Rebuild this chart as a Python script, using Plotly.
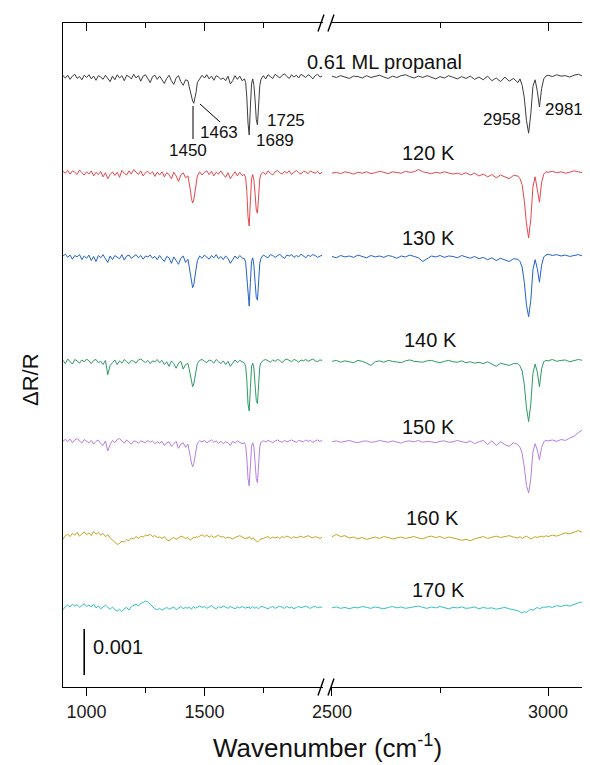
import plotly.graph_objects as go

# ---------------- sampling grids (cm^-1) ----------------
WN_LEFT = (list(range(900, 1430, 10)) + list(range(1430, 1475, 5)) + list(range(1480, 1670, 10))
           + list(range(1670, 1745, 5)) + list(range(1750, 2010, 10)))
WN_RIGHT = list(range(2500, 2930, 10)) + list(range(2930, 3000, 5)) + list(range(3000, 3110, 10))

# ---------------- spectra (units of 1e-5 dR/R, relative to each baseline) ----------------
LABELS = ["0.61 ML propanal", "120 K", "130 K", "140 K", "150 K", "160 K", "170 K"]
COLORS = ["#3c3c3c", "#e5474b", "#2263c9", "#2e9a63", "#b57fe0", "#c9a41e", "#33c2c2"]
BASELINES = [1326, 1117, 935, 707, 533, 324, 172]
UNIT = 1e-5

A_LEFT = [3, -2, 4, -5, 2, 6, -3, 1, -6, 4, -1,
          5, -4, 2, -7, 3, 0, -5, 4, -3, -10,
          2, -6, 5, -2, 3, -8, 4, 1, -4, 6,
          -2, 3, -9, 2, 5, -3, -12, 1, 4, -5,
          2, -6, -14, -3, 4, -8, -16, -2, 3, -10, -18, -6,
          -8, -20, -30, -45, -52, -57, -45, -32, -12,
          -3, 4, -2, 5, -4, 2, -7, 3, 0, -5, -2, -8, 2, -15, -8, 3, -5, 2, -8,
          -4, -12, -45, -100, -126, -65, -15, -4, -18, -50, -92, -104, -60, -18, -5,
          3, -4, 5, 1, -3, 6, 2, -2, 4, 7, 1, -3, 5, 0, 4, -2, 6, 3, -1, 5, 2, -4, 3, 6, 0, 2]
A_RIGHT = [2, -1, 3, 0, -3, 2, 1, -2, 3, -1, 2, 4, 0, -3, 2, -1, 3, 5, 1, -2,
           2, -1, 3, 0, -4, 1, -2, 3, -1, -4, 1, -3, 2, -5, 0, -6, 2, -8, -2, -10, 0, -9, -3,
           -12, -4, -18, -45, -95, -122, -80, -20, -6, -30, -65, -25, -4, 2,
           4, 1, 5, 2, 3, 0, 4, 6, 2, 3, 5]

B_LEFT = [4, 0, 6, -2, 5, 2, -3, 7, 1, -4, 3,
          -2, 5, -6, 2, -3, 4, -8, 1, -12, -3,
          3, -5, 2, -9, 6, 0, -4, 5, -2, 8,
          2, -3, 5, -6, 1, 4, -2, 3, -7, 2,
          -4, 3, -8, 1, -3, -12, 2, -6, -18, -4, 1, -10,
          -6, -18, -35, -55, -65, -58, -40, -22, -6,
          3, -4, 2, 5, -3, 4, -6, 2, -2, 5, -3, -9, 1, -12, -4, 3, -6, 2, -5,
          -3, -10, -40, -95, -115, -60, -12, -3, -15, -45, -80, -87, -50, -12, -2,
          2, -3, 5, 0, -4, 3, 6, 1, -2, 4, 0, 5, -3, 2, 6, 1, -2, 4, 3, -1, 5, 2, 0, 4, -2, 3]
B_RIGHT = [0, 2, -1, 3, 1, -2, 2, 0, 3, -1, 1, 4, 2, -1, 3, 1, 0, 4, 2, 3,
           8, 3, 1, -1, 2, 0, 3, 1, -2, 0, -3, 1, -4, 0, -6, -2, -8, -3, -10, -4, -8, -12, -5,
           -6, -12, -25, -60, -110, -141, -100, -30, -8, -35, -63, -20, -2, 3,
           2, 4, 1, 3, 0, 2, 5, 3, 1, 4, 2]

C_LEFT = [2, 6, -1, 4, -5, 3, 0, 5, -6, 2, -3,
          4, -8, 1, -10, 3, -2, 5, -4, -12, 2,
          -6, 3, 0, -4, 5, -7, 2, 4, -3, 1,
          5, -2, 3, -5, 2, 0, 4, -3, 1, -6,
          3, -4, -10, 1, -2, -14, 0, -8, -16, -3, 2, -12,
          -5, -20, -38, -58, -67, -60, -42, -25, -8,
          2, -3, 4, 0, -5, 3, -2, 5, -4, 1, -6, 2, -3, -14, -6, 2, -4, 3, -2,
          -4, -12, -42, -90, -107, -55, -10, -2, -18, -55, -88, -94, -52, -14, -3,
          4, 1, -2, 5, 3, -1, 2, 6, 0, -3, 4, 2, 5, -1, 3, 0, 6, 2, -2, 4, 1, 5, 3, -1, 2, 4]
C_RIGHT = [1, -2, 3, 0, 2, -1, 4, 1, -2, 3, 0, 2, -1, 3, 1, -3, 2, 0, 4, 1,
           -2, -10, -4, 2, 0, 3, -1, 2, 1, -2, 3, 0, -3, 1, -4, -1, -6, -2, -8, -3, -6, -10, -4,
           -5, -10, -22, -55, -105, -130, -95, -28, -6, -25, -55, -18, 0, 4,
           6, 3, 5, 2, 4, 1, 3, 5, 2, 4, 3]

D_LEFT = [3, -4, 6, 1, -5, 5, 2, -3, 4, 0, 6,
          2, -4, 3, 5, -2, 1, -6, 3, -28, -8,
          -2, 4, -6, 2, -3, 5, 0, -4, 3, 1,
          -3, 4, 6, 1, -2, 3, -4, 2, 0, 5,
          -2, 3, -6, 0, -10, 2, -4, -14, -3, 1, -16, -6,
          -4, -15, -30, -45, -54, -48, -32, -16, -4,
          3, 5, 1, -2, 4, 2, -3, 5, 0, -4, 2, -6, 1, -10, -3, 4, -2, 3, 0,
          -3, -10, -40, -92, -107, -58, -10, -3, -14, -50, -84, -91, -48, -10, -2,
          3, 5, 2, -1, 4, 1, 5, 3, -2, 4, 6, 2, 0, 5, 3, -1, 4, 2, 5, 1, 3, 6, 2, 0, 4, 3]
D_RIGHT = [1, 3, -1, 2, 0, -2, 3, 1, -3, -8, 0, 2, -1, 3, 1, 0, -2, 2, 4, 1,
           0, -1, 2, 3, 0, -2, 1, 3, 0, -1, 2, -2, 0, -3, -1, -4, 0, -5, -10, -3, -6, -8, -4,
           -4, -9, -20, -50, -100, -130, -92, -25, -5, -22, -54, -15, 0, 3,
           2, 5, 1, 3, 4, 0, 2, 5, 3, 1, 4]

E_LEFT = [2, 5, 0, 6, -2, 4, 7, 1, -3, 5, 2,
          -2, 3, -5, 1, 4, -4, -8, 2, -20, -6,
          3, -2, 5, 7, 1, -3, 4, 0, -5, 2,
          1, -3, 2, 0, -2, 3, -1, 2, -4, 0,
          -3, 1, -8, -2, 0, -10, -4, 1, -14, -5, -2, -12,
          -5, -16, -32, -46, -54, -47, -30, -14, -3,
          2, 0, 3, -2, 1, 4, -1, 2, -3, 1, -4, 0, -2, -8, 1, -3, 2, -1, -4,
          -2, -8, -35, -80, -96, -55, -10, -2, -12, -45, -80, -89, -45, -10, -1,
          2, 0, 3, 1, -2, 2, 4, 1, -1, 3, 0, 2, 4, 1, -1, 3, 2, 0, 4, 1, 3, -1, 2, 4, 1, 3]
E_RIGHT = [0, 2, -1, 1, 3, 0, -2, 1, 2, -1, 0, 3, 1, -1, 2, 0, -3, 1, 2, 0,
           3, -1, 1, 0, -2, 1, 2, -1, 0, 3, 1, -2, 2, -4, 0, 3, -6, 2, -8, 0, -6, -10, -2,
           -6, -12, -25, -55, -95, -111, -80, -22, -4, -18, -39, -12, 0, 3,
           2, 4, 1, 5, 3, 8, 12, 20, 26, 18, 14]

F_LEFT = [-3, 5, 8, 3, 10, 6, 12, 4, 9, 13, 7,
          11, 5, 14, 8, 12, 6, 10, 3, 7, 0,
          -5, -10, -14, -12, -7, -9, -4, -6, 0, -2,
          3, -1, 4, 2, 6, 5, 8, 3, 5, 1,
          2, -1, 3, -4, -6, -2, 1, -3, 0, 4, 2, -1,
          1, -2, -5, -3, -1, 2, 0, 3, 1,
          4, 7, 3, 6, 2, 5, 1, 4, 6, 2, 3, -1, 2, 0, -2, 1, 3, 5, 2,
          0, -2, 1, -1, 3, 0, -3, 1, -2, -4, -7, -9, -6, -4, -2,
          -1, 1, 3, -1, 2, 0, 2, -1, 3, 1, 4, 2, -1, 3, 0, 2, 4, 1, 3, 5, 2, 0, 3, 1, -1, 2]
F_RIGHT = [2, 8, 3, 5, 0, 2, -2, 1, -3, 0, 2, -1, 3, 1, -2, 0, 2, -1, 1, 3,
           0, -2, 2, 4, 1, 3, -1, 2, 0, -2, -5, -3, -6, -2, 0, 3, -1, 2, 4, 1, 3, 5, 2,
           0, 3, -1, 2, 4, 1, -2, 0, 3, 1, 2, 4, 2, 5,
           3, 6, 4, 8, 11, 9, 13, 16, 12, 15, 10]

G_LEFT = [-4, 3, 6, 2, 8, 4, 7, 1, 5, 9, 3,
          6, 2, 8, 0, 4, -2, 3, 6, 1, -3,
          2, -4, -7, -3, -8, -2, 1, -5, 3, 5,
          8, 4, 10, 12, 15, 13, 8, 2, -2, -4,
          -1, -5, -2, 1, -3, -1, 2, -4, 0, 3, -2, 1,
          -1, 2, 0, -3, 1, 3, -1, 0, 2,
          4, 1, 3, -1, 2, 5, 1, -2, 3, 0, 4, 2, -1, 3, 1, -2, 2, 0, 3,
          1, -1, 2, 0, 3, -2, 1, 3, 0, -1, 2, 0, -2, 1, 3,
          2, 0, -2, 1, 3, -1, 2, 4, 1, -1, 3, 0, 2, -2, 1, 3, 0, 2, 4, 1, -1, 2, 3, 0, 2, 1]
G_RIGHT = [0, 2, -1, 1, -2, 1, 0, 3, 1, -1, 2, 0, -2, 1, 3, 0, 2, -1, 1, 3,
           4, 1, -1, 2, 0, 3, 1, -2, 1, 0, 2, -1, 0, 2, -2, 1, -1, 0, -3, -1, 1, -2, -4,
           -6, -9, -11, -8, -10, -6, -3, -5, -1, 1, -2, 0, 2, 1,
           3, 1, 5, 3, 6, 4, 8, 11, 13, 10, 12]

LEFTS = [A_LEFT, B_LEFT, C_LEFT, D_LEFT, E_LEFT, F_LEFT, G_LEFT]
RIGHTS = [A_RIGHT, B_RIGHT, C_RIGHT, D_RIGHT, E_RIGHT, F_RIGHT, G_RIGHT]
for i, (l, r) in enumerate(zip(LEFTS, RIGHTS)):
    assert len(l) == len(WN_LEFT), (i, "left", len(l), len(WN_LEFT))
    assert len(r) == len(WN_RIGHT), (i, "right", len(r), len(WN_RIGHT))

# axis ticks
X_TICKS_LEFT = [1000, 1500]
X_MINOR_LEFT = [1250, 1750]
X_TICKS_RIGHT = [2500, 3000]
X_MINOR_RIGHT = [2750]
X_RANGE_LEFT = [900, 2001]
X_RANGE_RIGHT = [2497.7, 3097]
Y_RANGE = [0, 0.014435]

# scale bar
SCALE_BAR_X = 990
SCALE_BAR_BOTTOM = 0.00026
SCALE_BAR_LENGTH = 0.001

# peak labels: (text, pixel centre x, pixel centre y) in window pixels
PEAK_LABELS = [("1450", 188, 151), ("1463", 219, 133), ("1689", 275, 140),
               ("1725", 286, 120), ("2958", 502, 119), ("2981", 564, 110)]
SPEC_LABEL_POS = [(384, 62), (428, 153), (428, 238), (430, 340), (428, 427), (432, 518), (438, 590)]

# ---------------- figure ----------------
W, H = 590, 765          # browser window
PAGE_MARGIN = 8          # default body margin of the html page
L, T, PW, PH = 63, 23, 527, 664   # plot area in window pixels
FONT = "Arial, 'Liberation Sans', Arimo, sans-serif"


def px(x):
    return (x - L) / PW


def py(y):
    return (T + PH - y) / PH


fig = go.Figure()
for lab, col, base, lv, rv in zip(LABELS, COLORS, BASELINES, LEFTS, RIGHTS):
    fig.add_trace(go.Scatter(x=WN_LEFT, y=[(base + v) * UNIT for v in lv], mode="lines",
                             line=dict(color=col, width=1.0), xaxis="x", yaxis="y",
                             showlegend=False, name=lab, hoverinfo="skip"))
    fig.add_trace(go.Scatter(x=WN_RIGHT, y=[(base + v) * UNIT for v in rv], mode="lines",
                             line=dict(color=col, width=1.0), xaxis="x2", yaxis="y",
                             showlegend=False, name=lab, hoverinfo="skip"))

# scale bar
fig.add_trace(go.Scatter(x=[SCALE_BAR_X, SCALE_BAR_X],
                         y=[SCALE_BAR_BOTTOM, SCALE_BAR_BOTTOM + SCALE_BAR_LENGTH],
                         mode="lines", line=dict(color="black", width=1.6),
                         xaxis="x", yaxis="y", showlegend=False, hoverinfo="skip"))
# empty traces so top axes are drawn
fig.add_trace(go.Scatter(x=[None], y=[None], xaxis="x3", yaxis="y", showlegend=False))
fig.add_trace(go.Scatter(x=[None], y=[None], xaxis="x4", yaxis="y", showlegend=False))

axis_common = dict(showline=True, linecolor="black", linewidth=1.3, showgrid=False,
                   zeroline=False, tickcolor="black", tickwidth=1.3, ticklen=8,
                   tickfont=dict(family=FONT, size=18, color="#1a1a1a"))
dom_left = [0, px(322.5)]
dom_right = [px(331), 1]

fig.update_layout(
    width=W - PAGE_MARGIN, height=H - PAGE_MARGIN,
    margin=dict(l=L - PAGE_MARGIN, r=0, t=T - PAGE_MARGIN, b=H - T - PH, pad=0),
    paper_bgcolor="white", plot_bgcolor="white",
    xaxis=dict(domain=dom_left, range=X_RANGE_LEFT, anchor="y", tickmode="array",
               tickvals=X_TICKS_LEFT, ticks="outside",
               minor=dict(tickmode="array", tickvals=X_MINOR_LEFT, ticks="outside", ticklen=5,
                          tickcolor="black", tickwidth=1.3),
               **axis_common),
    xaxis2=dict(domain=dom_right, range=X_RANGE_RIGHT, anchor="y", tickmode="array",
                tickvals=X_TICKS_RIGHT, ticks="outside",
                minor=dict(tickmode="array", tickvals=X_MINOR_RIGHT, ticks="outside", ticklen=5,
                           tickcolor="black", tickwidth=1.3),
                **axis_common),
    xaxis3=dict(overlaying="x", side="top", range=X_RANGE_LEFT, anchor="y", tickmode="array",
                tickvals=X_TICKS_LEFT, ticks="inside", showticklabels=False,
                minor=dict(tickmode="array", tickvals=X_MINOR_LEFT, ticks="inside", ticklen=5,
                           tickcolor="black", tickwidth=1.3),
                **axis_common),
    xaxis4=dict(overlaying="x2", side="top", range=X_RANGE_RIGHT, anchor="y", tickmode="array",
                tickvals=X_TICKS_RIGHT, ticks="inside", showticklabels=False,
                minor=dict(tickmode="array", tickvals=X_MINOR_RIGHT, ticks="inside", ticklen=5,
                           tickcolor="black", tickwidth=1.3),
                **axis_common),
    yaxis=dict(range=Y_RANGE, anchor="x", showline=True, linecolor="black", linewidth=1.3,
               showgrid=False, zeroline=False, ticks="", showticklabels=False),
)

ann = []
for (txt, (cx, cy)) in zip(LABELS, SPEC_LABEL_POS):
    ann.append(dict(text=txt, x=px(cx), y=py(cy), xref="paper", yref="paper",
                    xanchor="center", yanchor="middle", showarrow=False,
                    font=dict(family=FONT, size=20, color="#111")))
for txt, cx, cy in PEAK_LABELS:
    ann.append(dict(text=txt, x=px(cx), y=py(cy), xref="paper", yref="paper",
                    xanchor="center", yanchor="middle", showarrow=False,
                    font=dict(family=FONT, size=17, color="#111")))
ann.append(dict(text="0.001", x=px(91), y=py(647), xref="paper", yref="paper",
                xanchor="left", yanchor="middle", showarrow=False,
                font=dict(family=FONT, size=20, color="#111")))
ann.append(dict(text="Wavenumber (cm<sup>-1</sup>)", x=px(327), y=py(746), xref="paper",
                yref="paper", xanchor="center", yanchor="middle", showarrow=False,
                font=dict(family=FONT, size=26, color="#111")))
ann.append(dict(text="\u0394R/R", x=px(30), y=py(380), xref="paper", yref="paper",
                xanchor="center", yanchor="middle", showarrow=False, textangle=-90,
                font=dict(family=FONT, size=22, color="#111")))
fig.update_layout(annotations=ann)

shapes = []
# axis break marks "//" at top and bottom
for yc in (T, T + PH):
    for xc in (321, 331):
        shapes.append(dict(type="line", xref="paper", yref="paper",
                           x0=px(xc - 3), y0=py(yc + 8.5), x1=px(xc + 3), y1=py(yc - 8.5),
                           line=dict(color="black", width=1.4)))
# leader lines for 1450 and 1463
shapes.append(dict(type="line", xref="paper", yref="paper", x0=px(193), y0=py(106),
                   x1=px(193), y1=py(139), line=dict(color="black", width=1)))
shapes.append(dict(type="line", xref="paper", yref="paper", x0=px(200), y0=py(104),
                   x1=px(220), y1=py(122), line=dict(color="black", width=1)))
fig.update_layout(shapes=shapes)

fig.write_html("out.html")
